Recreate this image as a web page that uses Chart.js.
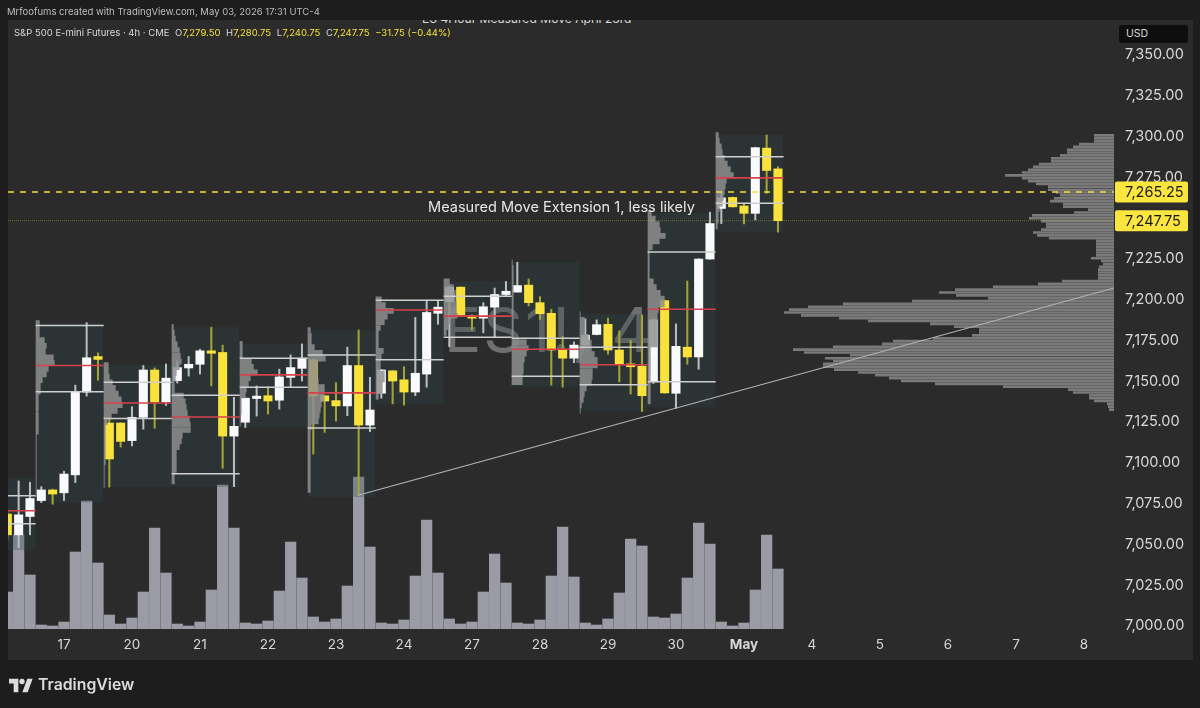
<!DOCTYPE html>
<html>
<head>
<meta charset="utf-8">
<title>ES 4Hour Measured Move</title>
<script src="https://cdn.jsdelivr.net/npm/chart.js@4/dist/chart.umd.js"></script>
<style>
    html, body { margin: 0; padding: 0; width: 1200px; height: 708px; overflow: hidden; background: #1d1d1d; font-family: Inter, "Noto Sans", sans-serif; }
    #panel { position: absolute; left: 8px; top: 20px; width: 1185px; height: 640px; background: #2b2b2b; overflow: hidden; }
    #chartTitle { position: absolute; left: 414px; top: -9px; font-size: 12.1px; line-height: 16px; color: #d8d8d8; white-space: nowrap; }
    #watermark { position: absolute; left: 436px; top: 272px; font-size: 62px; line-height: 76px; color: #707070; white-space: nowrap; letter-spacing: 2px; }
    #mainChart { position: absolute; left: 0; top: 0; }
    #credit { position: absolute; left: 7px; top: 5px; font-size: 9.5px; line-height: 14px; color: #bdbdbd; white-space: nowrap; }
    #ohlc { position: absolute; left: 14px; top: 26px; font-size: 9.5px; line-height: 14px; color: #d8d8d8; white-space: nowrap; }
    #ohlc b { font-weight: 400; color: #f5e13c; }
    #ohlc span { margin-right: 3px; }
    #usd { position: absolute; left: 1119px; top: 25px; width: 69px; height: 18px; background: #0e0e0e; border-radius: 3px; color: #d8d8d8; font-size: 10.5px; line-height: 18px; text-indent: 7px; }
    #note { position: absolute; left: 428px; top: 197px; font-size: 14.55px; line-height: 20px; color: #e6e6e6; white-space: nowrap; }
    #logoMark { position: absolute; left: 9px; top: 676px; }
    #logoText { position: absolute; left: 38px; top: 674px; font-size: 15.8px; line-height: 22px; font-weight: 600; color: #dcdcdc; white-space: nowrap; }
</style>
</head>
<body>
<div id="panel">
    <div id="chartTitle">ES 4Hour Measured Move April 23rd</div>
    <div id="watermark">ES1!, 4</div>
</div>
<canvas id="mainChart" width="1200" height="708"></canvas>
<div id="credit">Mrfoofums created with TradingView.com, May 03, 2026 17:31 UTC-4</div>
<div id="ohlc"><span>S&amp;P 500 E-mini Futures · 4h · CME</span> <span>O<b>7,279.50</b></span> <span>H<b>7,280.75</b></span> <span>L<b>7,240.75</b></span> <span>C<b>7,247.75</b></span> <span><b>−31.75 (−0.44%)</b></span></div>
<div id="usd">USD</div>
<div id="note">Measured Move Extension 1, less likely</div>
<svg id="logoMark" width="24" height="19" viewBox="0 0 36 28"><path fill="#dcdcdc" d="M14 24H7V11H0V4h14v20zM28 24h-8l7.5-20h8L28 24z"/><circle fill="#dcdcdc" cx="19.5" cy="8" r="4"/></svg>
<div id="logoText">TradingView</div>

<script>
// --- eje de tiempo: una vela cada 4h, 6 velas por dia ---
const barTicks = [0, 6, 12, 18, 24, 30, 36, 42, 48, 54, 60, 66, 72, 78, 84, 90];
const barTickLabels = ['17', '20', '21', '22', '23', '24', '27', '28', '29', '30', 'May', '4', '5', '6', '7', '8'];
const firstBar = -5;

// --- eje de precio ---
const priceTicks = [7000, 7025, 7050, 7075, 7100, 7125, 7150, 7175, 7200, 7225, 7275, 7300, 7325, 7350];
const priceTickLabels = ['7,000.00', '7,025.00', '7,050.00', '7,075.00', '7,100.00', '7,125.00', '7,150.00', '7,175.00', '7,200.00', '7,225.00', '7,275.00', '7,300.00', '7,325.00', '7,350.00'];

// --- velas ---
const opens = [7068, 7055.25, 7066.5, 7076.25, 7082.75, 7081, 7092, 7142.75, 7164.5, 7123.75, 7123.75, 7113, 7127.25, 7156.25, 7136.75, 7149.75, 7157.5, 7159.75, 7168, 7167, 7115.75, 7124.25, 7138.75, 7140.5, 7137.75, 7151.75, 7157.25, 7162.5, 7140.5, 7137.5, 7134.25, 7159, 7122.5, 7142, 7155.75, 7150.25, 7142.75, 7153.75, 7191, 7198, 7207, 7189.5, 7188, 7194.75, 7202.5, 7204, 7208.25, 7197.5, 7191, 7168.5, 7163.5, 7171.5, 7178, 7184.25, 7168.5, 7160, 7158.5, 7149, 7198.75, 7142, 7170.25, 7164.25, 7224.25, 7255.25, 7262, 7256.75, 7252.25, 7292.25, 7279.5];
const highs = [7070.5, 7088.25, 7087.5, 7084.75, 7083.25, 7094.25, 7147, 7185.25, 7166.75, 7126.75, 7124, 7133.75, 7159, 7157.5, 7160, 7161.75, 7164.5, 7169, 7182.5, 7171.5, 7139.5, 7139, 7146.5, 7146, 7156.75, 7165.5, 7172.25, 7163, 7140.75, 7148.5, 7170.25, 7180.75, 7151.75, 7156.5, 7156, 7158.25, 7188.5, 7199, 7198.75, 7207.25, 7207.25, 7190, 7197.5, 7206.5, 7210.5, 7222.25, 7212, 7201.25, 7193.5, 7176.75, 7173.5, 7187.5, 7187, 7188, 7180.25, 7174.5, 7190, 7187.5, 7199, 7184.5, 7210.75, 7224.5, 7253, 7265.5, 7262.25, 7258.5, 7292.75, 7300.25, 7280.75];
const lows = [7052, 7047.25, 7055.25, 7075, 7074, 7076.25, 7087.25, 7140.25, 7150, 7084.5, 7109, 7109.75, 7120, 7120.5, 7134.5, 7148.25, 7152.5, 7153.75, 7146.5, 7096, 7084.75, 7121, 7128, 7129.25, 7132.25, 7145.75, 7149.5, 7104.75, 7118, 7125, 7128.25, 7079.5, 7118.5, 7139, 7135.5, 7134.75, 7140.5, 7145.75, 7184.25, 7170.5, 7189.75, 7180.75, 7179, 7176.25, 7201.25, 7204, 7195.5, 7187.25, 7147, 7145.75, 7160.75, 7171.5, 7177.75, 7166, 7149, 7141.5, 7130.75, 7148, 7142, 7132.75, 7159.75, 7156.75, 7224, 7246, 7256, 7245.75, 7248.25, 7264.5, 7240.75];
const closes = [7055.25, 7067.5, 7077.5, 7082.75, 7080.25, 7092.5, 7142.75, 7163.75, 7162.75, 7101.75, 7112.5, 7127.25, 7156.25, 7136.75, 7151.25, 7157.75, 7159.75, 7168, 7166.5, 7115.75, 7121.75, 7139, 7140.25, 7137.25, 7152, 7157.75, 7163.5, 7140.25, 7137.25, 7134.25, 7159, 7122.5, 7131.75, 7156.25, 7149.5, 7142.75, 7154.25, 7191.5, 7194.75, 7207, 7190, 7188, 7195, 7202.5, 7204.5, 7208, 7197.5, 7190.75, 7168.5, 7163.5, 7171.5, 7177.5, 7184, 7168.5, 7159.5, 7158.25, 7140.5, 7187, 7142.25, 7170.75, 7164.25, 7224.25, 7246, 7261.75, 7256.25, 7252.25, 7292.5, 7278.5, 7247.75];

// --- volumen (miles de contratos, estimado) ---
const volumes = [37, 94, 54, 4, 3, 7, 77, 128, 66, 14, 5, 11, 37, 101, 56, 5, 3, 7, 39, 144, 101, 6, 5, 8, 38, 87, 51, 12, 7, 10, 43, 152, 82, 6, 5, 9, 53, 109, 56, 10, 5, 7, 37, 75, 46, 6, 5, 9, 53, 102, 52, 6, 4, 10, 36, 90, 83, 12, 11, 15, 51, 106, 85, 7, 3, 6, 39, 94, 60];

// --- sesiones: caja, valor alto, POC, valor bajo ---
const sessionStart = [-8.5, -2.5, 3.5, 9.5, 15.5, 21.5, 27.5, 33.5, 39.5, 45.5, 51.5, 57.5];
const sessionTop = [7090, 7185, 7159.25, 7182.5, 7172.25, 7180.75, 7199.5, 7210.5, 7222.25, 7190.5, 7252.5, 7300.25];
const sessionBottom = [7046, 7075, 7084.5, 7084.5, 7121.5, 7078.5, 7135.25, 7176, 7145.75, 7130.75, 7133.25, 7240.5];
const valueHigh = [7079.25, 7183.5, 7148.75, 7140.75, 7163.5, 7165.5, 7199, 7201.5, 7175.75, 7170.25, 7228.5, 7287];
const pocPrice = [7070, 7159, 7136, 7127.5, 7153.25, 7142.25, 7193, 7189.25, 7169, 7159.5, 7193.5, 7274];
const valueLow = [7062, 7143, 7126.5, 7092.75, 7145.75, 7120.75, 7162.5, 7176.25, 7152.5, 7147.25, 7149, 7258.5];

// --- perfiles de volumen por sesion, de arriba abajo ---
const profile1 = [4, 4, 4, 9, 11, 10, 18, 19, 13, 11, 7, 5, 5, 3, 3, 3, 3, 3, 3, 3, 1, 1, 1, 1, 1, 1, 1, 1, 1, 1, 1];
const profile2 = [5, 5, 6, 9, 12, 15, 18, 19, 14, 8, 4, 2, 2, 2, 2, 2, 2, 2, 1, 1, 1, 1];
const profile3 = [2, 3, 4, 6, 8, 9, 10, 8, 5, 4, 3, 3, 12, 14, 15, 16, 18, 19, 19, 11, 10, 8, 5, 5, 5, 5, 3, 3];
const profile4 = [3, 3, 3, 12, 14, 18, 11, 9, 7, 6, 2, 2, 2, 1, 1];
const profile5 = [3, 4, 4, 7, 15, 18, 10, 10, 10, 11, 17, 17, 17, 14, 13, 12, 11, 4, 3, 3, 3, 3, 3, 3, 3, 3, 3, 3, 3];
const profile6 = [6, 10, 18, 12, 9, 5, 3, 3, 3, 8, 6, 5, 5, 9, 9, 7, 7, 3];
const profile7 = [6, 10, 12, 12, 13, 13, 14, 7, 5, 3];
const profile8 = [1, 2, 2, 2, 2, 2, 2, 2, 2, 2, 2, 2, 2, 2, 15, 17, 15, 13, 12, 12, 11, 11];
const profile9 = [1, 5, 5, 5, 9, 12, 12, 15, 18, 18, 13, 13, 12, 7, 5, 4, 2, 1];
const profile10 = [4, 8, 12, 13, 18, 12, 5, 2, 2, 2, 2, 2, 6, 9, 13, 17, 17, 11, 10, 10, 10, 10, 10, 10, 3, 3, 3, 3, 3, 3, 3, 3, 3, 3];
const profile11 = [3, 4, 6, 7, 9, 12, 15, 18, 11, 10, 9, 8, 7, 4, 3, 3, 2];
const sessionProfiles = [[], profile1, profile2, profile3, profile4, profile5, profile6, profile7, profile8, profile9, profile10, profile11];
const sessionRowStep = 3.5;

// --- perfil de rango visible (derecha), cada fila 1.75 puntos desde 7300 ---
const visibleRangeTop = 7300;
const visibleRangeStep = 1.75;
const visibleRange = [20, 20, 20, 35, 41, 47, 47, 54, 63, 63, 75, 81, 86, 92, 109, 92, 86, 78, 66, 66, 58, 54, 60, 64, 51, 51, 26, 40, 82, 85, 73, 68, 68, 73, 81, 77, 65, 18, 18, 18, 18, 18, 18, 23, 13, 11, 15, 16, 16, 16, 16, 52, 76, 121, 159, 175, 158, 126, 202, 271, 306, 325, 330, 313, 275, 246, 184, 160, 135, 135, 142, 181, 221, 232, 281, 321, 310, 264, 289, 281, 291, 291, 280, 256, 239, 225, 213, 179, 111, 46, 41, 25, 25, 20, 7, 6, 5];

// --- niveles dibujados ---
const measuredMovePrice = 7265.25;
const lastPrice = 7247.75;
const trendBars = [25.95, 92.65];
const trendPrices = [7079.5, 7206.5];

const yellow = '#f8e23b';
const white = '#f8fafc';
const barsPerPixel = 1 / 11.333;

function rowsToSegments(left, top, step, lengths, scale) {
    const points = [];
    lengths.forEach((len, i) => {
        const price = top - i * step;
        points.push({ x: left, y: price }, { x: left + len * scale, y: price }, { x: NaN, y: NaN });
    });
    return points;
}

function hLineSegments(prices) {
    const points = [];
    prices.forEach((price, i) => {
        points.push({ x: sessionStart[i], y: price }, { x: sessionStart[i] + 6, y: price }, { x: NaN, y: NaN });
    });
    return points;
}

const lineBase = { type: 'line', pointRadius: 0, tension: 0, spanGaps: false, borderCapStyle: 'butt' };
const datasets = [];

// volumen
datasets.push({
    type: 'bar', order: 100, yAxisID: 'yVol', grouped: false, barThickness: 10.6, backgroundColor: '#9a9ba5',
    data: volumes.map((v, i) => ({ x: firstBar + i, y: v }))
});

// cajas de sesion
sessionStart.forEach((start, i) => {
    datasets.push({
        ...lineBase, order: 90, borderWidth: 0, backgroundColor: 'rgba(45,70,75,0.3)',
        fill: { value: sessionBottom[i] },
        data: [{ x: start, y: sessionTop[i] }, { x: start + 6, y: sessionTop[i] }]
    });
});

// mechas y cuerpos
const isUp = closes.map((c, i) => c >= opens[i]);
datasets.push({
    type: 'bar', order: 70, grouped: false, barThickness: 1.4,
    backgroundColor: isUp.map(up => up ? '#b9bcc0' : '#a5a236'),
    data: highs.map((h, i) => ({ x: firstBar + i, y: [lows[i], h] }))
});
datasets.push({
    type: 'bar', order: 60, grouped: false, barThickness: 8.4,
    backgroundColor: isUp.map(up => up ? white : yellow),
    data: opens.map((o, i) => ({ x: firstBar + i, y: [o, closes[i]] }))
});

// perfiles de sesion
sessionProfiles.forEach((rows, i) => {
    datasets.push({
        ...lineBase, order: 50, borderWidth: 5.7, borderColor: 'rgba(142,142,142,0.85)',
        data: rowsToSegments(sessionStart[i], sessionTop[i], sessionRowStep, rows, barsPerPixel)
    });
});

// perfil de rango visible
datasets.push({
    ...lineBase, order: 45, xAxisID: 'xProfile', borderWidth: 2.6, borderColor: '#7a7a7a',
    data: rowsToSegments(0, visibleRangeTop, visibleRangeStep, visibleRange, 1)
});

// valor alto / bajo y POC
datasets.push({ ...lineBase, order: 40, borderWidth: 1.5, borderColor: '#cfcfcf', data: hLineSegments(valueHigh) });
datasets.push({ ...lineBase, order: 40, borderWidth: 1.5, borderColor: '#cfcfcf', data: hLineSegments(valueLow) });
datasets.push({ ...lineBase, order: 39, borderWidth: 1.6, borderColor: '#d8414c', data: hLineSegments(pocPrice) });

// linea de tendencia y niveles
datasets.push({
    ...lineBase, order: 30, borderWidth: 1.2, borderColor: '#b4b4b4',
    data: trendBars.map((b, i) => ({ x: b, y: trendPrices[i] }))
});
datasets.push({
    ...lineBase, order: 20, borderWidth: 1.5, borderColor: yellow, borderDash: [6, 6],
    data: [{ x: -4.94, y: measuredMovePrice }, { x: 92.65, y: measuredMovePrice }]
});
datasets.push({
    ...lineBase, order: 21, borderWidth: 1, borderColor: 'rgba(248,226,59,0.35)', borderDash: [1, 1],
    data: [{ x: -4.94, y: lastPrice }, { x: 92.65, y: lastPrice }]
});

// etiquetas amarillas sobre el eje de precio
const priceTagsPlugin = {
    id: 'priceTags',
    afterDraw(chart) {
        const { ctx, scales } = chart;
        const right = scales.y.left;
        [measuredMovePrice, lastPrice].forEach(price => {
            const y = scales.y.getPixelForValue(price);
            ctx.save();
            ctx.fillStyle = '#fbe640';
            ctx.beginPath();
            ctx.roundRect(right + 1, y - 10.5, 73, 21, 2);
            ctx.fill();
            ctx.fillStyle = '#1a1a1a';
            ctx.font = '14.5px Inter';
            ctx.textBaseline = 'middle';
            ctx.fillText(price.toLocaleString('en-US', { minimumFractionDigits: 2 }), right + 11, y + 1);
            ctx.restore();
        });
    }
};

new Chart(document.getElementById('mainChart').getContext('2d'), {
    data: { datasets: datasets },
    plugins: [priceTagsPlugin],
    options: {
        responsive: false,
        animation: false,
        devicePixelRatio: 1,
        layout: { padding: { left: 8, top: 20, right: 0, bottom: 48 } },
        plugins: { legend: { display: false }, tooltip: { enabled: false } },
        scales: {
            x: {
                type: 'linear', position: 'bottom', offset: false, min: -4.94, max: 92.65,
                grid: { display: false, drawTicks: false }, border: { display: false },
                afterFit(scale) { scale.height = 31; },
                afterBuildTicks(scale) { scale.ticks = barTicks.map(v => ({ value: v })); },
                ticks: {
                    autoSkip: false, maxRotation: 0, padding: 8, color: '#d8d8d8',
                    callback: value => barTickLabels[barTicks.indexOf(value)],
                    font: ctx => ({
                        family: 'Inter', size: 13.5,
                        weight: ctx.tick && ctx.tick.value === 60 ? '700' : '400'
                    })
                }
            },
            xProfile: { type: 'linear', axis: 'x', display: false, offset: false, reverse: true, min: 0, max: 1106 },
            y: {
                type: 'linear', position: 'right', min: 6997.55, max: 7370.72,
                grid: { display: false, drawTicks: false }, border: { display: false },
                afterFit(scale) { scale.width = 86; },
                afterBuildTicks(scale) { scale.ticks = priceTicks.map(v => ({ value: v })); },
                ticks: {
                    autoSkip: false, crossAlign: 'near', padding: 11, color: '#d8d8d8', labelOffset: 1,
                    font: { family: 'Inter', size: 14.5 },
                    callback: value => priceTickLabels[priceTicks.indexOf(value)]
                }
            },
            yVol: { type: 'linear', axis: 'y', display: false, min: 0, max: 609 }
        }
    }
});
</script>
</body>
</html>
